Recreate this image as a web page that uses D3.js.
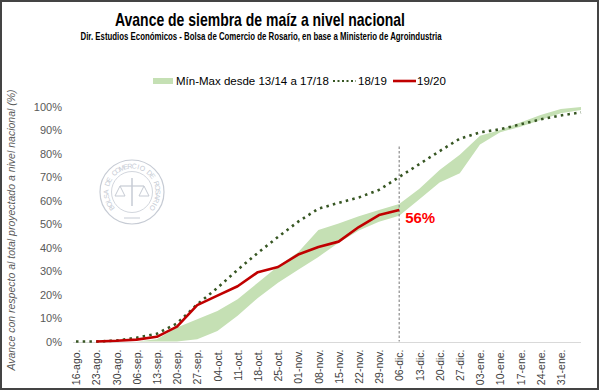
<!DOCTYPE html>
<html><head><meta charset="utf-8">
<script src="https://cdn.jsdelivr.net/npm/d3@7"></script>
<style>
html,body{margin:0;padding:0;background:#fff;}
svg{display:block;}
</style></head>
<body>
<svg id="chart" width="600" height="391"></svg>
<script>
// ---- data ----
const weeks = ["16-ago.","23-ago.","30-ago.","06-sep.","13-sep.","20-sep.","27-sep.","04-oct.","11-oct.","18-oct.","25-oct.","01-nov.","08-nov.","15-nov.","22-nov.","29-nov.","06-dic.","13-dic.","20-dic.","27-dic.","03-ene.","10-ene.","17-ene.","24-ene.","31-ene.","07-feb."];
const tickLabels = weeks.slice(0, 25);
const bandMax = [0,0,0,0,1,6,9.5,13,18,25,32,38,47.5,50.2,53.3,56,58.5,65,73,79.5,87.6,90,93.2,96.4,98.9,99.8];
const bandMin = [0,0,0,0,0,0,1,4.5,11,18.5,25,30.5,36,42,47.2,51,53.5,60.5,67.7,71.6,83.8,89,91.4,94.3,97.1,98.5];
const s1819 = [0,0,0.4,1.6,3.3,7.7,15.8,22.8,30.5,37.7,44.5,51,56.5,59,61.3,64.5,70,75.5,81,86.3,89,90.3,92.4,94.5,96.2,97.5];
const s1920 = [null,0,0.3,0.8,2,6.3,15.5,19.5,23.5,29.5,31.7,37,40.2,42.5,48.7,53.8,56];
const yTicks = [0,10,20,30,40,50,60,70,80,90,100];
const markerWeek = "06-dic.";
const markerLabel = "56%";
const sealText = "BOLSA DE COMERCIO DE ROSARIO";

const svg = d3.select("#chart");
const W = 600, H = 391;
const font = "'Liberation Sans', Arial, sans-serif";

const x = d3.scalePoint().domain(weeks).range([76, 581]);
const y = d3.scaleLinear().domain([0, 100]).range([341.5, 106.5]);

// border
svg.append("rect").attr("x",1).attr("y",1).attr("width",W-3).attr("height",H-3)
  .attr("fill","#fff").attr("stroke","#444").attr("stroke-width",2);

// title (condensed look via textLength)
svg.append("text").attr("x",260).attr("y",26).attr("text-anchor","middle")
  .attr("textLength",290).attr("lengthAdjust","spacingAndGlyphs")
  .style("font-family",font)
  .style("font-weight","bold").style("font-size","19px").attr("fill","#000")
  .text("Avance de siembra de maíz a nivel nacional");
svg.append("text").attr("x",261).attr("y",40).attr("text-anchor","middle")
  .attr("textLength",361).attr("lengthAdjust","spacingAndGlyphs")
  .style("font-family",font)
  .style("font-weight","bold").style("font-size","11px").attr("fill","#000")
  .text("Dir. Estudios Económicos - Bolsa de Comercio de Rosario, en base a Ministerio de Agroindustria");

// watermark seal
const seal = svg.append("g").attr("transform","translate(132,192)");
const sealCol = "#c6cbd4";
seal.append("circle").attr("r",32).attr("fill","none").attr("stroke",sealCol).attr("stroke-width",1.2);
seal.append("circle").attr("r",20.5).attr("fill","none").attr("stroke",sealCol).attr("stroke-width",0.8);
const chars = sealText.split("");
const a0 = -128, a1 = 128, step = (a1 - a0) / (chars.length - 1);
seal.selectAll("text.seal").data(chars).join("text").attr("class","seal")
  .attr("transform",(c,i)=>`rotate(${a0 + i*step}) translate(0,-23.5)`)
  .attr("text-anchor","middle")
  .style("font-family",font).style("font-size","7px").attr("fill",sealCol)
  .text(c => c);
seal.append("line").attr("x1",-12).attr("x2",12).attr("y1",-6).attr("y2",-6).attr("stroke",sealCol).attr("stroke-width",1.2);
seal.append("line").attr("x1",0).attr("x2",0).attr("y1",-14).attr("y2",14).attr("stroke",sealCol).attr("stroke-width",1.5);
seal.append("path").attr("d","M-17,4 L-12,-6 L-7,4 Z M7,4 L12,-6 L17,4 Z").attr("fill","none").attr("stroke",sealCol);
seal.append("line").attr("x1",-8).attr("x2",8).attr("y1",26).attr("y2",26).attr("stroke",sealCol);

// y axis labels
const yAxis = d3.axisLeft(y).tickValues(yTicks).tickFormat(d => d + "%").tickSize(0).tickPadding(0);
const gy = svg.append("g").attr("transform","translate(62,0)").call(yAxis);
gy.select(".domain").remove();
gy.selectAll("text").style("font-family",font).style("font-size","11px").attr("fill","#595959");

// y title
svg.append("g").attr("transform","translate(15,230)")
  .append("text").attr("transform","rotate(-90)").attr("x",0).attr("y",0).attr("text-anchor","middle")
  .style("font-family",font).style("font-style","italic").style("font-size","10.5px").attr("fill","#595959")
  .text("Avance con respecto al total proyectado a nivel nacional (%)");

// x axis
svg.append("line").attr("x1",73).attr("x2",581).attr("y1",y(0)+1).attr("y2",y(0)+1)
  .attr("stroke","#d9d9d9").attr("stroke-width",1);
const xAxis = d3.axisBottom(x).tickValues(tickLabels).tickSize(0).tickPadding(0);
const gx = svg.append("g").attr("transform",`translate(0,${y(0)+8})`).call(xAxis);
gx.select(".domain").remove();
gx.selectAll("text")
  .attr("transform","rotate(-90)").attr("x",0).attr("y",0).attr("dy","0.35em")
  .attr("text-anchor","end")
  .style("font-family",font).style("font-size","10.5px").attr("fill","#404040");

// band
const idx = weeks.map((w,i)=>i);
const area = d3.area().x(i => x(weeks[i])).y0(i => y(bandMin[i])).y1(i => y(bandMax[i]));
svg.append("path").datum(idx.filter(i => i >= 3)).attr("d", area).attr("fill","#c5e0b4");

// marker vertical dashed line
svg.append("line").attr("x1",x(markerWeek)).attr("x2",x(markerWeek)).attr("y1",y(83)).attr("y2",y(0))
  .attr("stroke","#8c8c8c").attr("stroke-width",1.2).attr("stroke-dasharray","2.5,2");

// 18/19 dotted
const line = d3.line().defined(d => d[1] != null).x(d => x(d[0])).y(d => y(d[1]));
svg.append("path").datum(weeks.map((w,i)=>[w,s1819[i]])).attr("d", line)
  .attr("fill","none").attr("stroke","#375623").attr("stroke-width",2.6).attr("stroke-dasharray","2.5,4.2");

// 19/20 red
svg.append("path").datum(s1920.map((v,i)=>[weeks[i],v])).attr("d", line)
  .attr("fill","none").attr("stroke","#c00000").attr("stroke-width",2.6).attr("stroke-linejoin","round");

// 56% label
const lastVal = s1920[s1920.length-1];
svg.append("text").attr("x",x(markerWeek)+6).attr("y",y(lastVal)+13)
  .style("font-family",font).style("font-weight","bold").style("font-size","15px").attr("fill","#ff0000")
  .text(markerLabel);

// legend
const lg = svg.append("g").style("font-family",font).style("font-size","11.5px").attr("fill","#000");
lg.append("rect").attr("x",153).attr("y",78).attr("width",20).attr("height",6).attr("fill","#c5e0b4");
lg.append("text").attr("x",176).attr("y",85).text("Mín-Max desde 13/14 a 17/18");
lg.append("line").attr("x1",333).attr("x2",356).attr("y1",81).attr("y2",81)
  .attr("stroke","#375623").attr("stroke-width",2.2).attr("stroke-dasharray","2,2.5");
lg.append("text").attr("x",358).attr("y",85).text("18/19");
lg.append("line").attr("x1",393).attr("x2",416).attr("y1",81).attr("y2",81)
  .attr("stroke","#c00000").attr("stroke-width",2.6);
lg.append("text").attr("x",417).attr("y",85).text("19/20");
</script>
</body></html>
